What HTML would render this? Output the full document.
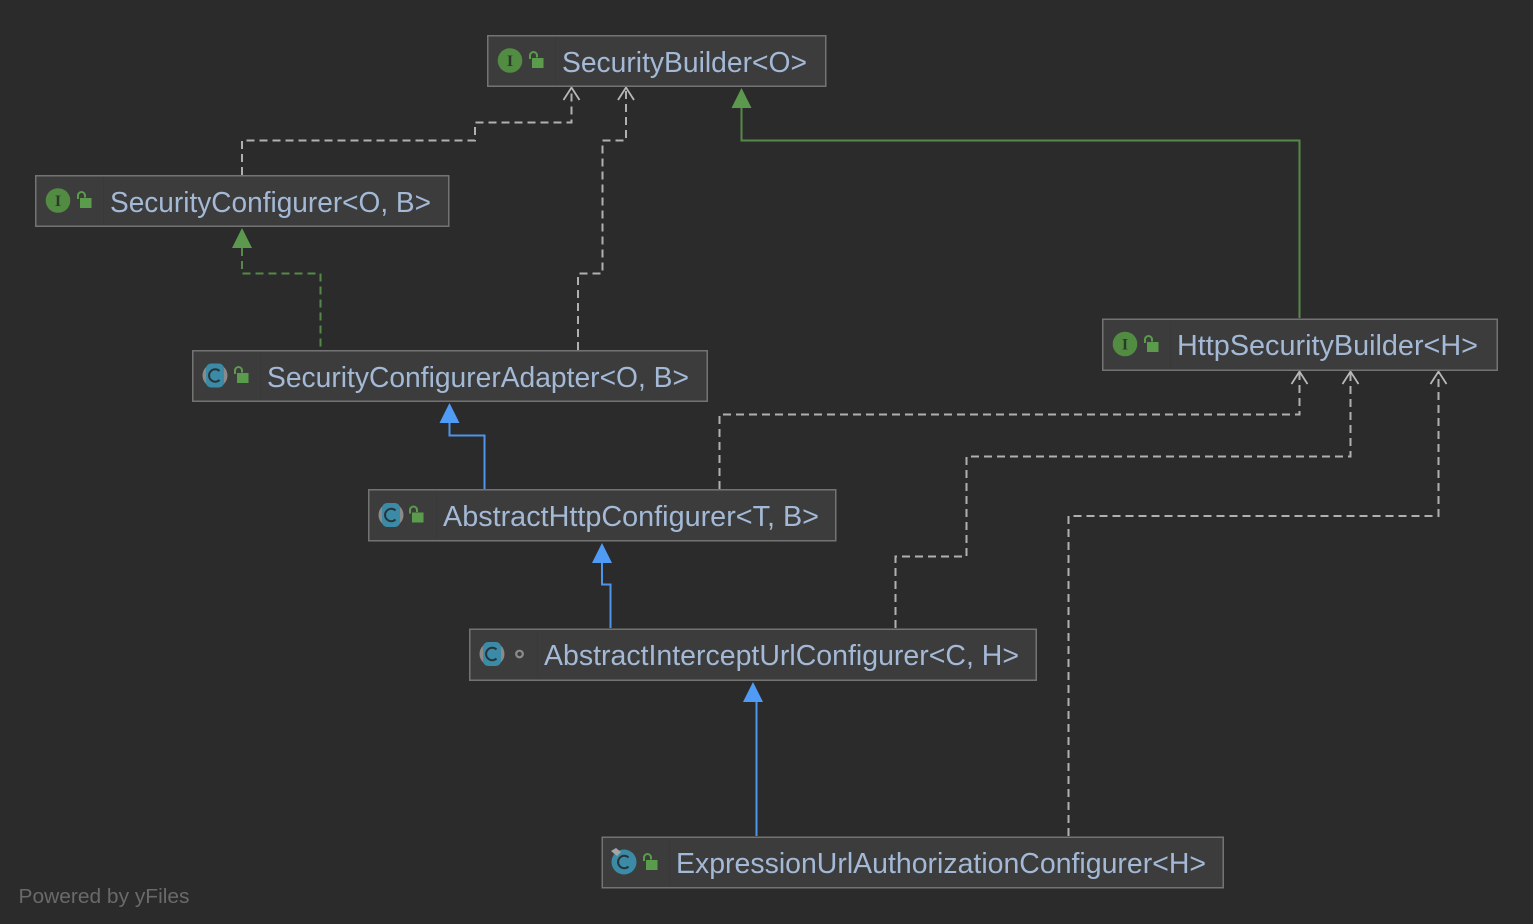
<!DOCTYPE html>
<html><head><meta charset="utf-8"><style>
html,body{margin:0;padding:0;background:#2b2b2b;width:1533px;height:924px;overflow:hidden}
svg{display:block}
.n{fill:#3c3c3c;stroke:#737373;stroke-width:1.5}
.d{stroke:#393939;stroke-width:1}
.t{font-family:"Liberation Sans",sans-serif;font-size:29px;fill:#a3b9d6}
.w{fill:none;stroke:#b0b0b0;stroke-width:2;stroke-dasharray:8 5}
.o{fill:none;stroke:#b8b8b8;stroke-width:1.8}
.g{fill:none;stroke:#54894a;stroke-width:2}
.b{fill:none;stroke:#4d94ea;stroke-width:2}
.ci{font-family:"Liberation Serif",serif;font-size:16px;font-weight:bold;fill:#2a3a27;text-anchor:middle}
</style></head><body>
<svg width="1533" height="924" viewBox="0 0 1533 924" xmlns="http://www.w3.org/2000/svg">
<defs>
<g id="lock"><path d="M-7 -1v-3.500a3.500 3.500 0 0 1 7 0v2" fill="none" stroke="#5b9b4c" stroke-width="2"/><rect x="-5" y="-2" width="11.500" height="10" fill="#5b9b4c"/></g>
<path id="c" d="M4.500 -4.500A6.200 6.200 0 1 0 4.500 4.500" fill="none" stroke="#26343c" stroke-width="2"/>
<g id="ifc"><circle r="12.300" fill="#528c43"/><text class="ci" y="5.500">I</text></g>
<g id="abs"><ellipse rx="12.500" ry="12" fill="#8a8a8a"/><rect x="-9" y="-12" width="18" height="24" rx="5" fill="#3b8aa6"/><use href="#c"/></g>
<g id="cls"><circle r="12.500" fill="#3b8aa6"/><use href="#c"/></g>
</defs>

<!-- connectors -->
<path class="w" d="M242 175V140.500H475V122.500H571.500V90"/>
<path class="o" d="M563.500 100L571.500 87.500L579.500 100"/>
<path class="w" d="M578 350V273.500H602.500V140.500H626V90"/>
<path class="o" d="M618 100L626 87.500L634 100"/>
<path class="g" d="M1299.500 318V140.500H741.500V108"/>
<path d="M741.500 88L731.500 108H751.500Z" fill="#5c994f"/>
<path d="M242 248V273.500H320.500V350" fill="none" stroke="#54894a" stroke-width="2" stroke-dasharray="8 5"/>
<path d="M242 228L232 248H252Z" fill="#5c994f"/>
<path class="b" d="M484.500 489V435.500H449.500V423"/>
<path d="M449.500 403L439.500 423H459.500Z" fill="#4f9bf5"/>
<path class="b" d="M610.500 628V584.500H602V562"/>
<path d="M602 543L592 563H612Z" fill="#4f9bf5"/>
<path class="b" d="M756.500 836V701"/>
<path d="M753 682L743 702H763Z" fill="#4f9bf5"/>
<path class="w" d="M719.500 489V414.500H1299.500V373"/>
<path class="o" d="M1291.500 384L1299.500 371.500L1307.500 384"/>
<path class="w" d="M895.500 628V556.500H966.500V456.500H1350.500V373"/>
<path class="o" d="M1342.500 384L1350.500 371.500L1358.500 384"/>
<path class="w" d="M1068.500 836V516H1438.500V373"/>
<path class="o" d="M1430.500 384L1438.500 371.500L1446.500 384"/>

<!-- SecurityBuilder -->
<rect class="n" x="487.750" y="35.750" width="338" height="50.500"/>
<line class="d" x1="555.500" y1="37" x2="555.500" y2="85"/>
<use href="#ifc" x="510" y="60.500"/><use href="#lock" x="537" y="60"/>
<text class="t" x="562" y="72" textLength="245" lengthAdjust="spacingAndGlyphs">SecurityBuilder&lt;O&gt;</text>

<!-- SecurityConfigurer -->
<rect class="n" x="35.750" y="175.750" width="413" height="50.500"/>
<line class="d" x1="103.500" y1="177" x2="103.500" y2="225"/>
<use href="#ifc" x="58" y="200.500"/><use href="#lock" x="85" y="200"/>
<text class="t" x="110" y="212" textLength="321" lengthAdjust="spacingAndGlyphs">SecurityConfigurer&lt;O, B&gt;</text>

<!-- SecurityConfigurerAdapter -->
<rect class="n" x="192.750" y="350.750" width="514.500" height="50.500"/>
<line class="d" x1="260.500" y1="352" x2="260.500" y2="400"/>
<use href="#abs" x="215" y="375.500"/><use href="#lock" x="242" y="375"/>
<text class="t" x="267" y="387" textLength="422" lengthAdjust="spacingAndGlyphs">SecurityConfigurerAdapter&lt;O, B&gt;</text>

<!-- AbstractHttpConfigurer -->
<rect class="n" x="368.750" y="489.750" width="467" height="51"/>
<line class="d" x1="436.500" y1="491" x2="436.500" y2="539"/>
<use href="#abs" x="391" y="515"/><use href="#lock" x="417" y="514.500"/>
<text class="t" x="443" y="526" textLength="376" lengthAdjust="spacingAndGlyphs">AbstractHttpConfigurer&lt;T, B&gt;</text>

<!-- AbstractInterceptUrlConfigurer -->
<rect class="n" x="469.750" y="629.250" width="566.500" height="51"/>
<line class="d" x1="537.500" y1="631" x2="537.500" y2="679"/>
<use href="#abs" x="492" y="654"/>
<circle cx="519.500" cy="654" r="3.300" fill="none" stroke="#8c8c8c" stroke-width="2.200"/>
<text class="t" x="544" y="665" textLength="475" lengthAdjust="spacingAndGlyphs">AbstractInterceptUrlConfigurer&lt;C, H&gt;</text>

<!-- ExpressionUrlAuthorizationConfigurer -->
<rect class="n" x="602.250" y="837.250" width="621" height="50.500"/>
<line class="d" x1="669.500" y1="839" x2="669.500" y2="887"/>
<use href="#cls" x="624" y="862"/>
<path d="M611 851l5-3 5 4-4 4z" fill="#a5a5a5"/>
<use href="#lock" x="651" y="862"/>
<text class="t" x="676" y="873" textLength="530" lengthAdjust="spacingAndGlyphs">ExpressionUrlAuthorizationConfigurer&lt;H&gt;</text>

<!-- HttpSecurityBuilder -->
<rect class="n" x="1102.750" y="319.250" width="394.500" height="51"/>
<line class="d" x1="1170.500" y1="321" x2="1170.500" y2="369"/>
<use href="#ifc" x="1125" y="344"/><use href="#lock" x="1152" y="344"/>
<text class="t" x="1177" y="355" textLength="301" lengthAdjust="spacingAndGlyphs">HttpSecurityBuilder&lt;H&gt;</text>

<text x="18.500" y="903" font-family="Liberation Sans,sans-serif" font-size="20.500" fill="#6a6a6a" textLength="171" lengthAdjust="spacingAndGlyphs">Powered by yFiles</text>
</svg>
</body></html>
